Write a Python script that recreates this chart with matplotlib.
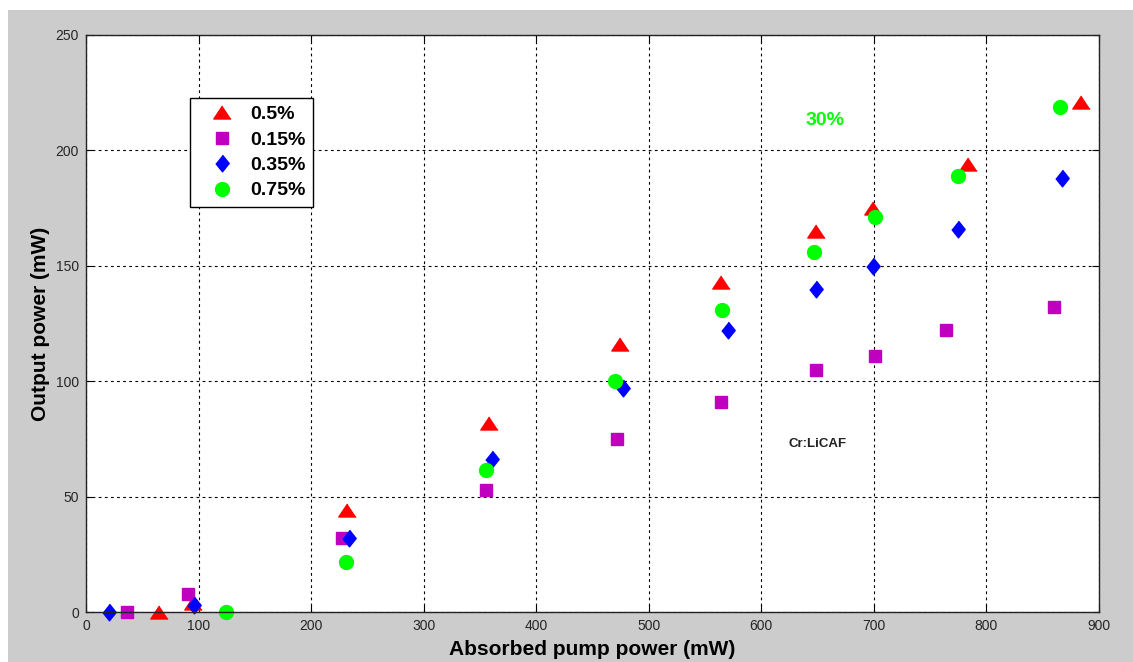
import matplotlib
matplotlib.use("Agg")
import matplotlib.pyplot as plt
from matplotlib.patches import Rectangle

plt.rcParams['font.family'] = ['Liberation Sans', 'DejaVu Sans']

# 0.5 %
x_05 = [65, 95, 232, 358, 474, 564, 649, 699, 784, 884]
y_05 = [0, 4, 44, 82, 116, 143, 165, 175, 194, 221]
# 0.15 %
x_015 = [36, 91, 227, 355, 472, 564, 649, 701, 764, 860]
y_015 = [0, 8, 32, 53, 75, 91, 105, 111, 122, 132]
# 0.35 %
x_035 = [20, 96, 234, 361, 477, 570, 649, 699, 775, 867]
y_035 = [0, 3, 32, 66.5, 97, 122, 140, 150, 166, 188]
# 0.75 %
x_075 = [124, 231, 355, 470, 565, 647, 701, 775, 865]
y_075 = [0, 21.5, 61.5, 100, 131, 156, 171, 189, 219]

x_ticks = [0, 100, 200, 300, 400, 500, 600, 700, 800, 900]
y_ticks = [0, 50, 100, 150, 200, 250]

tri = [(0, 0.75), (-1, -0.75), (1, -0.75)]
diamond = [(0, 1), (0.8, 0), (0, -1), (-0.8, 0)]

fig = plt.figure(figsize=(11.33, 6.62), dpi=100, facecolor='white')
fig.patches.append(Rectangle((8 / 1133, 0), 1, 652 / 662, transform=fig.transFigure,
                             facecolor='#cccccc', edgecolor='none', zorder=-10))
ax = fig.add_axes([86 / 1133, 50 / 662, 1013 / 1133, 577 / 662])

ax.plot(x_05, y_05, linestyle='none', marker=tri, markersize=12.5,
        color='#ff0000', label='0.5%', clip_on=False)
ax.plot(x_015, y_015, linestyle='none', marker='s', markersize=8.8,
        color='#bf00bf', label='0.15%', clip_on=False)
ax.plot(x_035, y_035, linestyle='none', marker=diamond, markersize=12,
        color='#0000ff', label='0.35%', clip_on=False)
ax.plot(x_075, y_075, linestyle='none', marker='o', markersize=10,
        color='#00ff00', label='0.75%', clip_on=False)

ax.set_xlim(0, 900)
ax.set_ylim(0, 250)
ax.set_xticks(x_ticks)
ax.set_yticks(y_ticks)
ax.tick_params(direction='in', length=5, width=0.8, labelsize=10,
               labelcolor='#262626', top=True, right=True, pad=5)
ax.grid(True, color='black', linestyle=(0, (2.5, 3)), linewidth=0.8)
for s in ax.spines.values():
    s.set_linewidth(1.0)
    s.set_color('#222222')

ax.set_xlabel('Absorbed pump power (mW)', fontsize=15, fontweight='bold', labelpad=5)
ax.set_ylabel('Output power (mW)', fontsize=15, fontweight='bold', labelpad=4)

ax.text(657, 213, '30%', color='#00ff00', fontsize=14, fontweight='bold',
        ha='center', va='center')
ax.text(650, 73, 'Cr:LiCAF', color='#222222', fontsize=9.5, fontweight='bold',
        ha='center', va='center')

leg = ax.legend(loc='upper left', bbox_to_anchor=(0.1027, 0.891), borderaxespad=0,
                fancybox=False, framealpha=1, edgecolor='black',
                prop={'size': 14, 'weight': 'bold'}, handlelength=2.5,
                handletextpad=0.2, labelspacing=0.4, borderpad=0.4)
leg.get_frame().set_linewidth(1.0)

fig.savefig('out.png', dpi=100, facecolor=fig.get_facecolor())
